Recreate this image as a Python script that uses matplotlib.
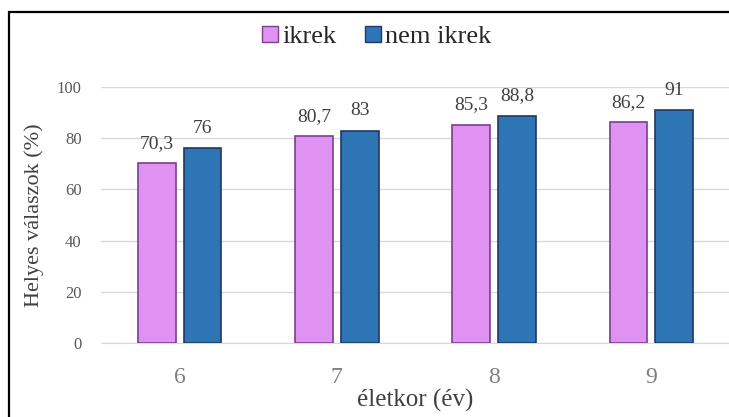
import numpy as np
import matplotlib
matplotlib.use("Agg")
import matplotlib.pyplot as plt
from matplotlib.patches import Patch, Rectangle

# adatok
eletkor = ["6", "7", "8", "9"]
ikrek = [70.3, 80.7, 85.3, 86.2]
nem_ikrek = [76, 83, 88.8, 91]
ikrek_cimke = ["70,3", "80,7", "85,3", "86,2"]
nem_ikrek_cimke = ["76", "83", "88,8", "91"]
y_ticks = [0, 20, 40, 60, 80, 100]

plt.rcParams['font.family'] = ['Liberation Serif', 'DejaVu Serif']

pink = '#DF92F2'
pink_edge = '#7B3F8C'
blue = '#2E75B6'
blue_edge = '#1F3864'

fig = plt.figure(figsize=(7.29, 4.17), dpi=100)
ax = fig.add_axes([101 / 729, 74 / 417, 629 / 729, 256 / 417])

x = np.arange(len(eletkor))
w = 0.24
off = 0.146

b1 = ax.bar(x - off, ikrek, w, color=pink, edgecolor=pink_edge, linewidth=1.2, zorder=3)
b2 = ax.bar(x + off, nem_ikrek, w, color=blue, edgecolor=blue_edge, linewidth=1.2, zorder=3)

for bars, labels in [(b1, ikrek_cimke), (b2, nem_ikrek_cimke)]:
    for rect, lab in zip(bars, labels):
        ax.annotate(lab, (rect.get_x() + rect.get_width() / 2, rect.get_height()),
                    xytext=(0, 8), textcoords='offset points',
                    ha='center', va='bottom', fontsize=14, color='#404040')

ax.set_xlim(-0.5, 3.5)
ax.set_ylim(0, 100)
ax.set_yticks(y_ticks)
ax.set_xticks(x)
ax.set_xticklabels(eletkor)
ax.tick_params(axis='y', length=0, pad=14, labelsize=12, labelcolor='#595959')
ax.tick_params(axis='x', length=0, pad=17, labelsize=17, labelcolor='#7F7F7F')
ax.yaxis.grid(True, color='#D9D9D9', linewidth=1, zorder=0)
for s in ['top', 'right', 'left']:
    ax.spines[s].set_visible(False)
ax.spines['bottom'].set_color('#D9D9D9')

ax.set_ylabel('Helyes válaszok (%)', fontsize=16, color='#404040', labelpad=9)
ax.set_xlabel('életkor (év)', fontsize=18, color='#404040', labelpad=1)

handles = [Patch(facecolor=pink, edgecolor=pink_edge, label='ikrek'),
           Patch(facecolor=blue, edgecolor=blue_edge, label='nem ikrek')]
fig.legend(handles=handles, loc='center', bbox_to_anchor=(0.517, 1 - 37 / 417),
           ncol=2, frameon=False, fontsize=19, handlelength=0.6, handleheight=0.6,
           handletextpad=0.15, columnspacing=1.1, labelcolor='#262626')

# keret
fig.patches.append(Rectangle((9 / 729, -0.05), 1.0, 1 - 12 / 417 + 0.05,
                             transform=fig.transFigure, fill=False,
                             edgecolor='black', linewidth=1.6))

fig.savefig('out.png', dpi=100)
